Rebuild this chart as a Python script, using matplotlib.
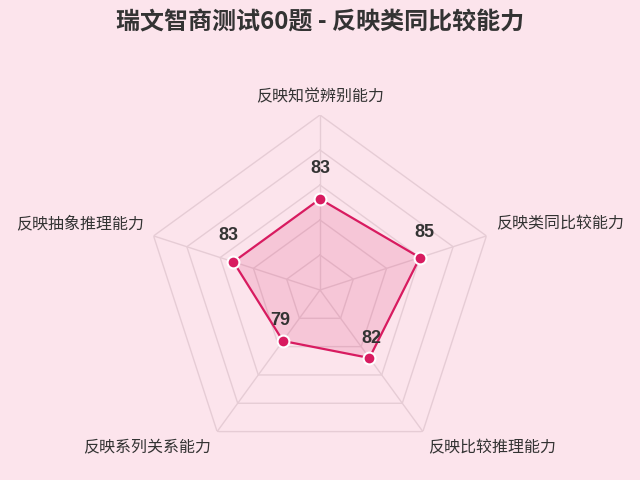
import matplotlib
matplotlib.use("Agg")
import matplotlib.pyplot as plt
import numpy as np

plt.rcParams['font.family'] = ['Noto Sans CJK SC', 'DejaVu Sans']

titulo = "瑞文智商测试60题 - 反映类同比较能力"
categorias = ["反映知觉辨别能力", "反映类同比较能力", "反映比较推理能力",
              "反映系列关系能力", "反映抽象推理能力"]
valores = [83, 85, 82, 79, 83]
anillos = [75, 80, 85, 90, 95]
r_min = 70
r_max = 95

fondo = "#fce4ec"
color_linea = "#d81b60"
color_malla = "#e6ccd5"

n = len(categorias)
angulos = np.linspace(0, 2 * np.pi, n, endpoint=False)

fig = plt.figure(figsize=(6.4, 4.8), dpi=100, facecolor=fondo)
ax = fig.add_axes([145 / 640, 15 / 480, 350 / 640, 350 / 480], projection="polar")
ax.set_facecolor("none")
ax.set_theta_offset(np.pi / 2)
ax.set_theta_direction(-1)
ax.set_ylim(r_min, r_max)
ax.grid(False)
ax.spines["polar"].set_visible(False)
ax.set_xticks([])
ax.set_yticks([])

# malla pentagonal
cerrado = np.concatenate([angulos, angulos[:1]])
for r in anillos:
    ax.plot(cerrado, [r] * (n + 1), color=color_malla, lw=1, zorder=1)
for a in angulos:
    ax.plot([a, a], [r_min, r_max], color=color_malla, lw=1, zorder=1)

# serie
vals = valores + valores[:1]
ax.fill(cerrado, vals, color=color_linea, alpha=0.15, zorder=2, lw=0)
ax.plot(cerrado, vals, color=color_linea, lw=1.6, zorder=3)
ax.plot(angulos, valores, "o", color=color_linea, markersize=8.5,
        markeredgecolor="white", markeredgewidth=1.5, zorder=4)

# desplazamiento de las cifras (en puntos)
desplaz_valor = [(0, 22), (3.5, 18), (1.5, 14), (-2, 15), (-3.5, 19)]
for a, v, (dx, dy) in zip(angulos, valores, desplaz_valor):
    ax.annotate(str(v), xy=(a, v), xytext=(dx, dy), textcoords="offset points",
                ha="center", va="center", fontsize=13, fontweight="bold",
                family=["Liberation Sans", "DejaVu Sans"],
                color="#333333", zorder=5)

# etiquetas de los ejes
desplaz = [(0, 13, "center"), (7, 9, "left"), (4, -12, "left"),
           (-4, -12, "right"), (-7, 9, "right")]
for a, c, (dx, dy, ha) in zip(angulos, categorias, desplaz):
    ax.annotate(c, xy=(a, r_max), xytext=(dx, dy), textcoords="offset points",
                ha=ha, va="center", fontsize=11.5, color="#333333",
                annotation_clip=False)

fig.text(0.5, 1 - 22 / 480, titulo, ha="center", va="center",
         fontsize=17.3, fontweight="bold", color="#333333")

fig.savefig("out.png", dpi=100, facecolor=fondo)
